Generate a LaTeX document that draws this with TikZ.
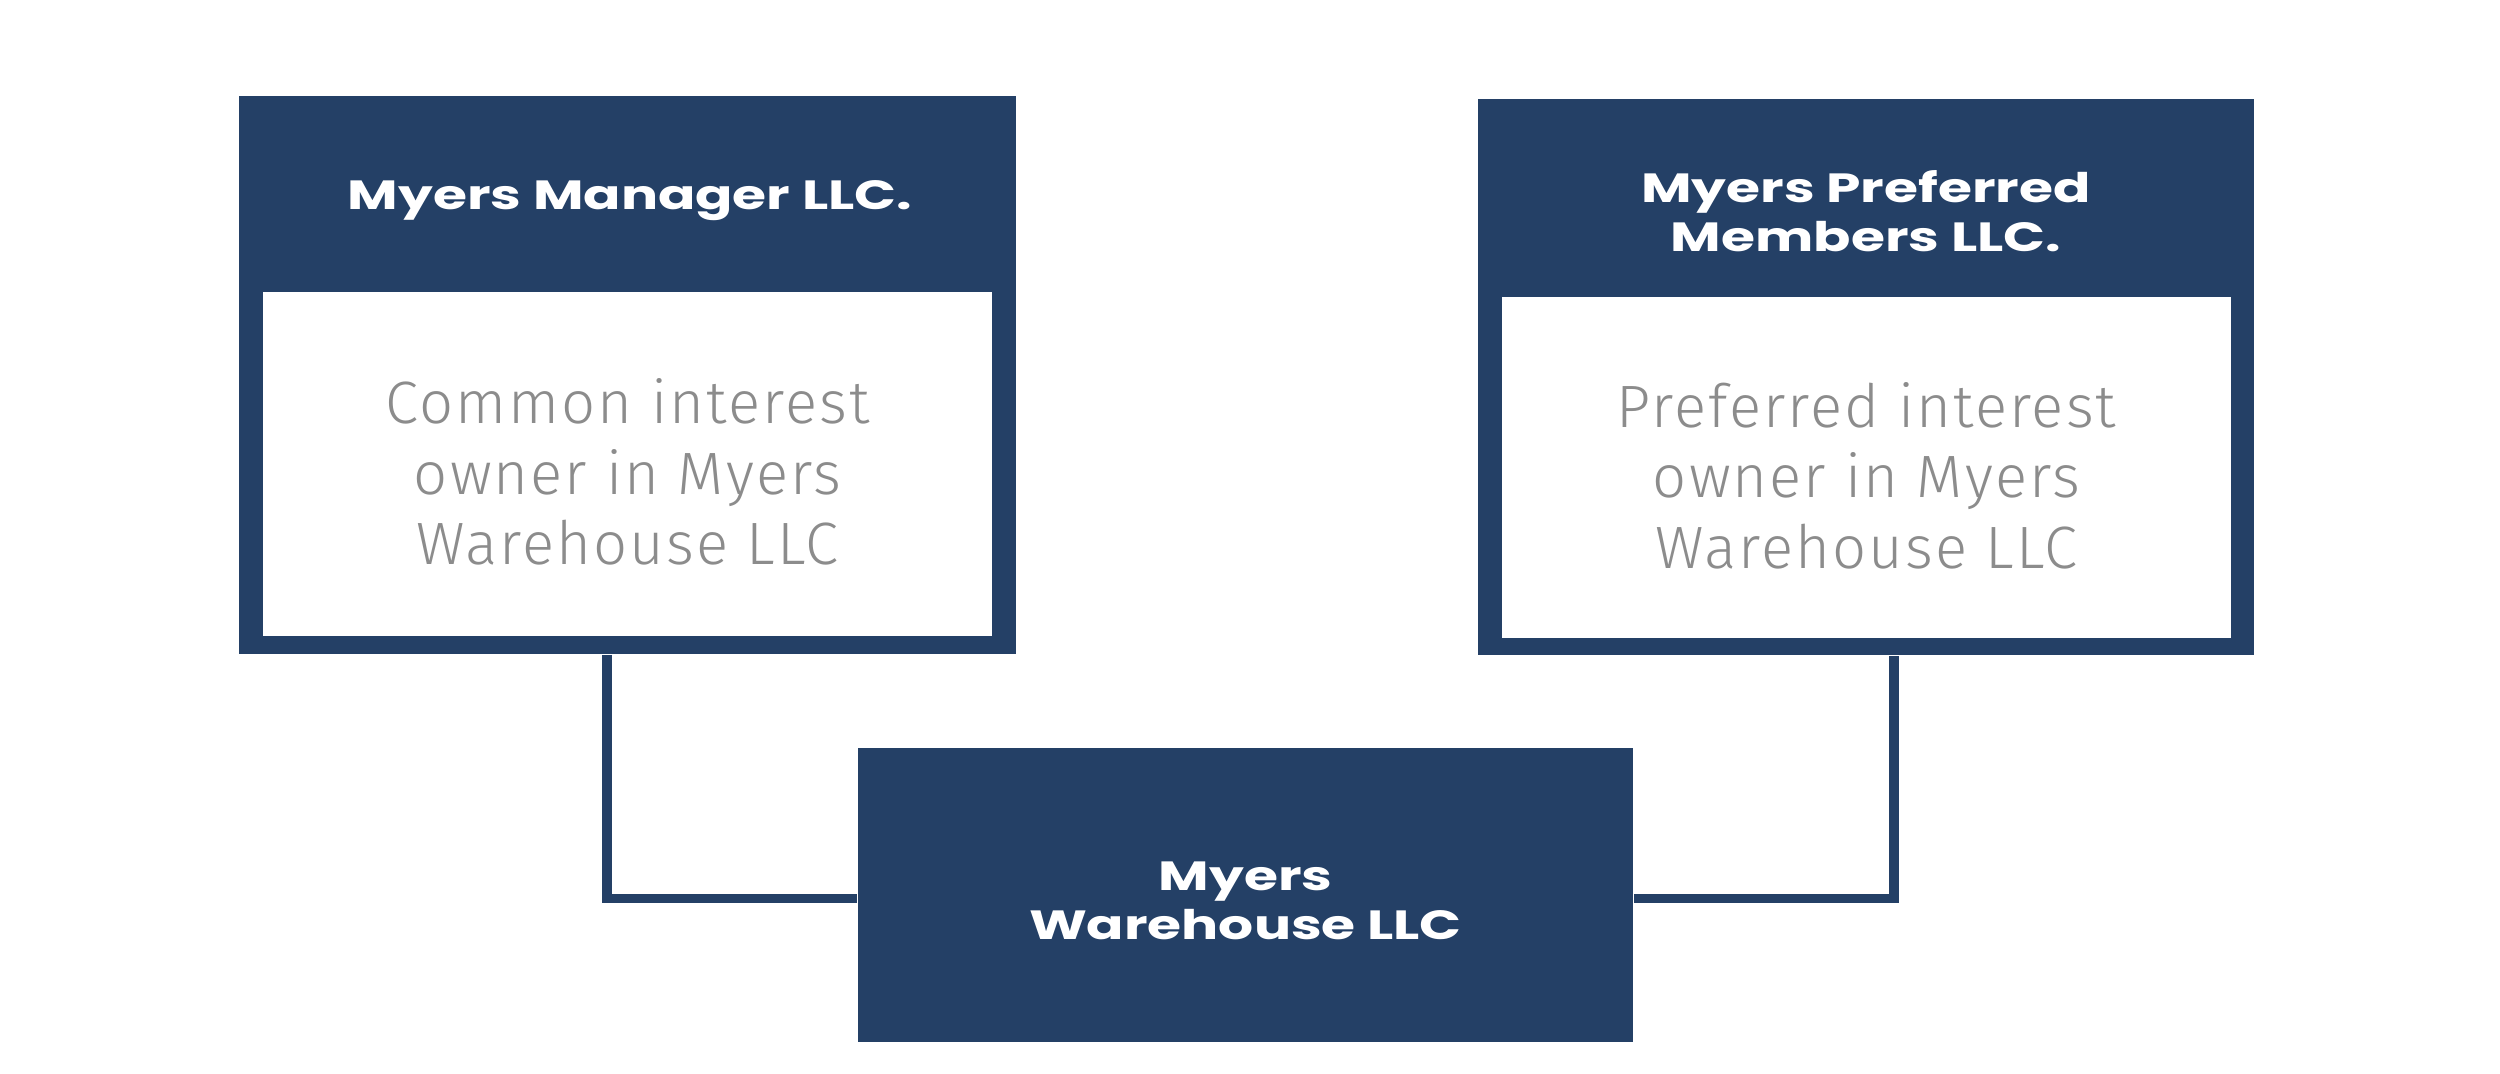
\documentclass[tikz,border=0pt]{standalone}
\usepackage{fontspec}
\newfontfamily\headfont[FakeStretch=1.35]{Poppins}
\newfontfamily\bodyfont[LetterSpace=3.5]{Fira Sans Light}
\definecolor{MyersNavy}{HTML}{244066}
\definecolor{MyersGrey}{HTML}{8C8C8C}

\begin{document}
\begin{tikzpicture}[x=0.01cm,y=-0.01cm,
    outerbox/.style={draw=none,fill=MyersNavy,inner sep=0pt},
    innerbox/.style={fill=white,inner sep=0pt},
    bodytxt/.style={align=center,text=MyersGrey,inner sep=0pt,
      font=\bodyfont\fontsize{17}{20}\selectfont},
    headtxt/.style={text=white,align=center,font=\headfont\bfseries\fontsize{11.6}{14}\selectfont},
    link/.style={draw=MyersNavy,line width=2.6pt}]
  \useasboundingbox (0,0) rectangle (2500,1074);

  % upper left: manager
  \node[outerbox,minimum width=7.77cm,minimum height=5.58cm] (mgr) at (627.5,375) {};
  \node[innerbox,minimum width=7.29cm,minimum height=3.44cm] (mgrbody) at (627.5,464) {};
  \node[bodytxt] (mgrtxt) at (627.5,472) {Common interest\\owner in Myers\\Warehouse LLC};
  \node[headtxt] (mgrhead) at (630,201) {Myers Manager LLC.};

  % upper right: preferred members
  \node[outerbox,minimum width=7.76cm,minimum height=5.56cm] (pref) at (1866,377) {};
  \node[innerbox,minimum width=7.29cm,minimum height=3.41cm] (prefbody) at (1866.5,467.5) {};
  \node[bodytxt] (preftxt) at (1866.5,475.5) {Preferred interest\\owner in Myers\\Warehouse LLC};
  \node[headtxt] (prefhead) at (1866,211) {Myers Preferred\\Members LLC.};

  % bottom: warehouse
  \node[outerbox,minimum width=7.75cm,minimum height=2.94cm] (wh) at (1245.5,895) {};
  \node[headtxt] (whhead) at (1245.5,901) {Myers\\Warehouse LLC};

  \coordinate (mgrdrop) at (607,0);
  \coordinate (prefdrop) at (1894,0);
  \draw[link] (mgr.south -| mgrdrop) |- ([yshift=-1pt]wh.west);
  \draw[link] (pref.south -| prefdrop) |- ([yshift=-1pt]wh.east);
\end{tikzpicture}
\end{document}
